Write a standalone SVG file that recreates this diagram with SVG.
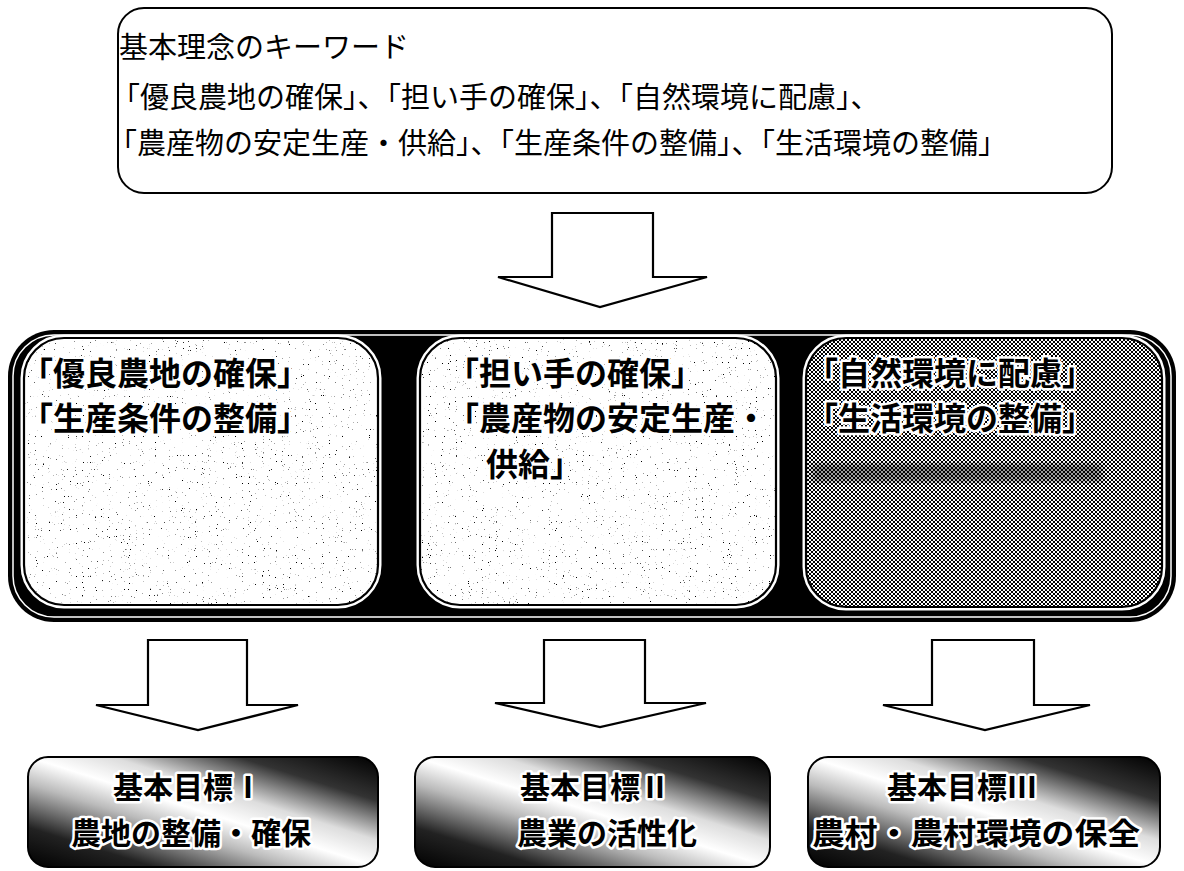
<svg xmlns="http://www.w3.org/2000/svg" width="1184" height="871" viewBox="0 0 1184 871">
<style>
  text { font-family: "Noto Sans CJK JP", "Noto Sans CJK SC", sans-serif; fill: #000; dominant-baseline: central; }
  .kw { font-size: 29px; }
  .mid { font-size: 32px; font-weight: bold; }
  .goal { font-size: 30px; font-weight: bold; }
  .halo { stroke: #fff; stroke-width: 5px; paint-order: stroke; stroke-linejoin: round; }
  .arrow { fill: #fff; stroke: #000; stroke-width: 2.2; stroke-linejoin: miter; }
  .frame { fill: none; stroke: #000; stroke-width: 2.2; }
  .ring { fill: none; stroke: #fff; stroke-width: 7; }
</style>
<defs>
  <filter id="speckle" x="0" y="0" width="100%" height="100%">
    <feTurbulence type="fractalNoise" baseFrequency="0.85" numOctaves="1" seed="7" result="n"/>
    <feColorMatrix in="n" type="matrix" values="0 0 0 0 0  0 0 0 0 0  0 0 0 0 0  14 0 0 0 -9.7" result="d"/>
    <feComposite in="d" in2="SourceAlpha" operator="in"/>
  </filter>
  <pattern id="hatch" patternUnits="userSpaceOnUse" width="4" height="4">
    <rect width="4" height="4" fill="#fff"/>
    <path d="M0 4 L4 0 M-1 1 L1 -1 M3 5 L5 3 M0 0 L4 4 M-1 3 L1 5 M3 -1 L5 1" stroke="#000" stroke-width="1"/>
  </pattern>
  <linearGradient id="goalgrad" x1="0" y1="1" x2="1" y2="0">
    <stop offset="0" stop-color="#000"/>
    <stop offset="0.18" stop-color="#222"/>
    <stop offset="0.38" stop-color="#bbb"/>
    <stop offset="0.5" stop-color="#fff"/>
    <stop offset="0.62" stop-color="#ddd"/>
    <stop offset="0.8" stop-color="#333"/>
    <stop offset="1" stop-color="#000"/>
  </linearGradient>
  <filter id="blur3"><feGaussianBlur stdDeviation="3"/></filter>
</defs>

<g id="keywords">
  <rect x="118" y="8" width="994" height="185" rx="26" fill="#fff" stroke="#000" stroke-width="2"/>
  <text class="kw" x="119" y="45">基本理念のキーワード</text>
  <text class="kw" x="111" y="95">「優良農地の確保」、「担い手の確保」、「自然環境に配慮」、</text>
  <text class="kw" x="108" y="141">「農産物の安定生産・供給」、「生産条件の整備」、「生活環境の整備」</text>
</g>

<g id="connectors">
  <path class="arrow" d="M552 213 H653 V277 H707 L600 307 L498 277 H552 Z"/>
  <path class="arrow" d="M148 640 H247 V705 H298 L198 730 L96 705 H148 Z"/>
  <path class="arrow" d="M544 640 H645 V703 H706 L600 727 L495 703 H544 Z"/>
  <path class="arrow" d="M932 640 H1034 V705 H1090 L985 730 L883 705 H932 Z"/>
</g>

<g id="group">
  <rect x="8" y="330" width="1168" height="292" rx="46" fill="#000"/>
  <rect x="13" y="335" width="1158" height="282" rx="41" fill="none" stroke="#fff" stroke-width="1.5"/>
</g>

<g id="box1">
  <rect class="ring" x="24" y="338" width="354" height="267" rx="40"/>
  <rect x="24" y="338" width="354" height="267" rx="40" fill="#fff"/>
  <rect x="24" y="338" width="354" height="267" rx="40" fill="#fff" filter="url(#speckle)"/>
  <rect class="frame" x="24" y="338" width="354" height="267" rx="40"/>
  <text class="mid halo" x="21" y="371">「優良農地の確保」</text>
  <text class="mid halo" x="21" y="416">「生産条件の整備」</text>
</g>

<g id="box2">
  <rect class="ring" x="420" y="338" width="356" height="267" rx="40"/>
  <rect x="420" y="338" width="356" height="267" rx="40" fill="#fff"/>
  <rect x="420" y="338" width="356" height="267" rx="40" fill="#fff" filter="url(#speckle)"/>
  <rect class="frame" x="420" y="338" width="356" height="267" rx="40"/>
  <text class="mid halo" x="447" y="371">「担い手の確保」</text>
  <text class="mid halo" x="447" y="416">「農産物の安定生産・</text>
  <text class="mid halo" x="486" y="462">供給」</text>
</g>

<g id="box3">
  <rect class="ring" x="806" y="338" width="356" height="269" rx="40"/>
  <rect x="806" y="338" width="356" height="269" rx="40" fill="url(#hatch)"/>
  <rect x="812" y="464" width="290" height="18" fill="#000" opacity="0.4" filter="url(#blur3)"/>
  <rect class="frame" x="806" y="338" width="356" height="269" rx="40"/>
  <text class="mid halo" x="806" y="371">「自然環境に配慮」</text>
  <text class="mid halo" x="806" y="416">「生活環境の整備」</text>
</g>

<g id="goal1">
  <rect x="28" y="757" width="350" height="110" rx="20" fill="url(#goalgrad)" stroke="#000" stroke-width="2"/>
  <text class="goal halo" x="113" y="785">基本目標Ⅰ</text>
  <text class="goal halo" x="71" y="831">農地の整備・確保</text>
</g>

<g id="goal2">
  <rect x="415" y="757" width="355" height="110" rx="20" fill="url(#goalgrad)" stroke="#000" stroke-width="2"/>
  <text class="goal halo" x="520" y="785">基本目標Ⅱ</text>
  <text class="goal halo" x="517" y="831">農業の活性化</text>
</g>

<g id="goal3">
  <rect x="808" y="757" width="352" height="110" rx="20" fill="url(#goalgrad)" stroke="#000" stroke-width="2"/>
  <text class="goal halo" x="887" y="785">基本目標Ⅲ</text>
  <text class="goal halo" x="812" y="831" textLength="328" lengthAdjust="spacingAndGlyphs">農村・農村環境の保全</text>
</g>
</svg>
